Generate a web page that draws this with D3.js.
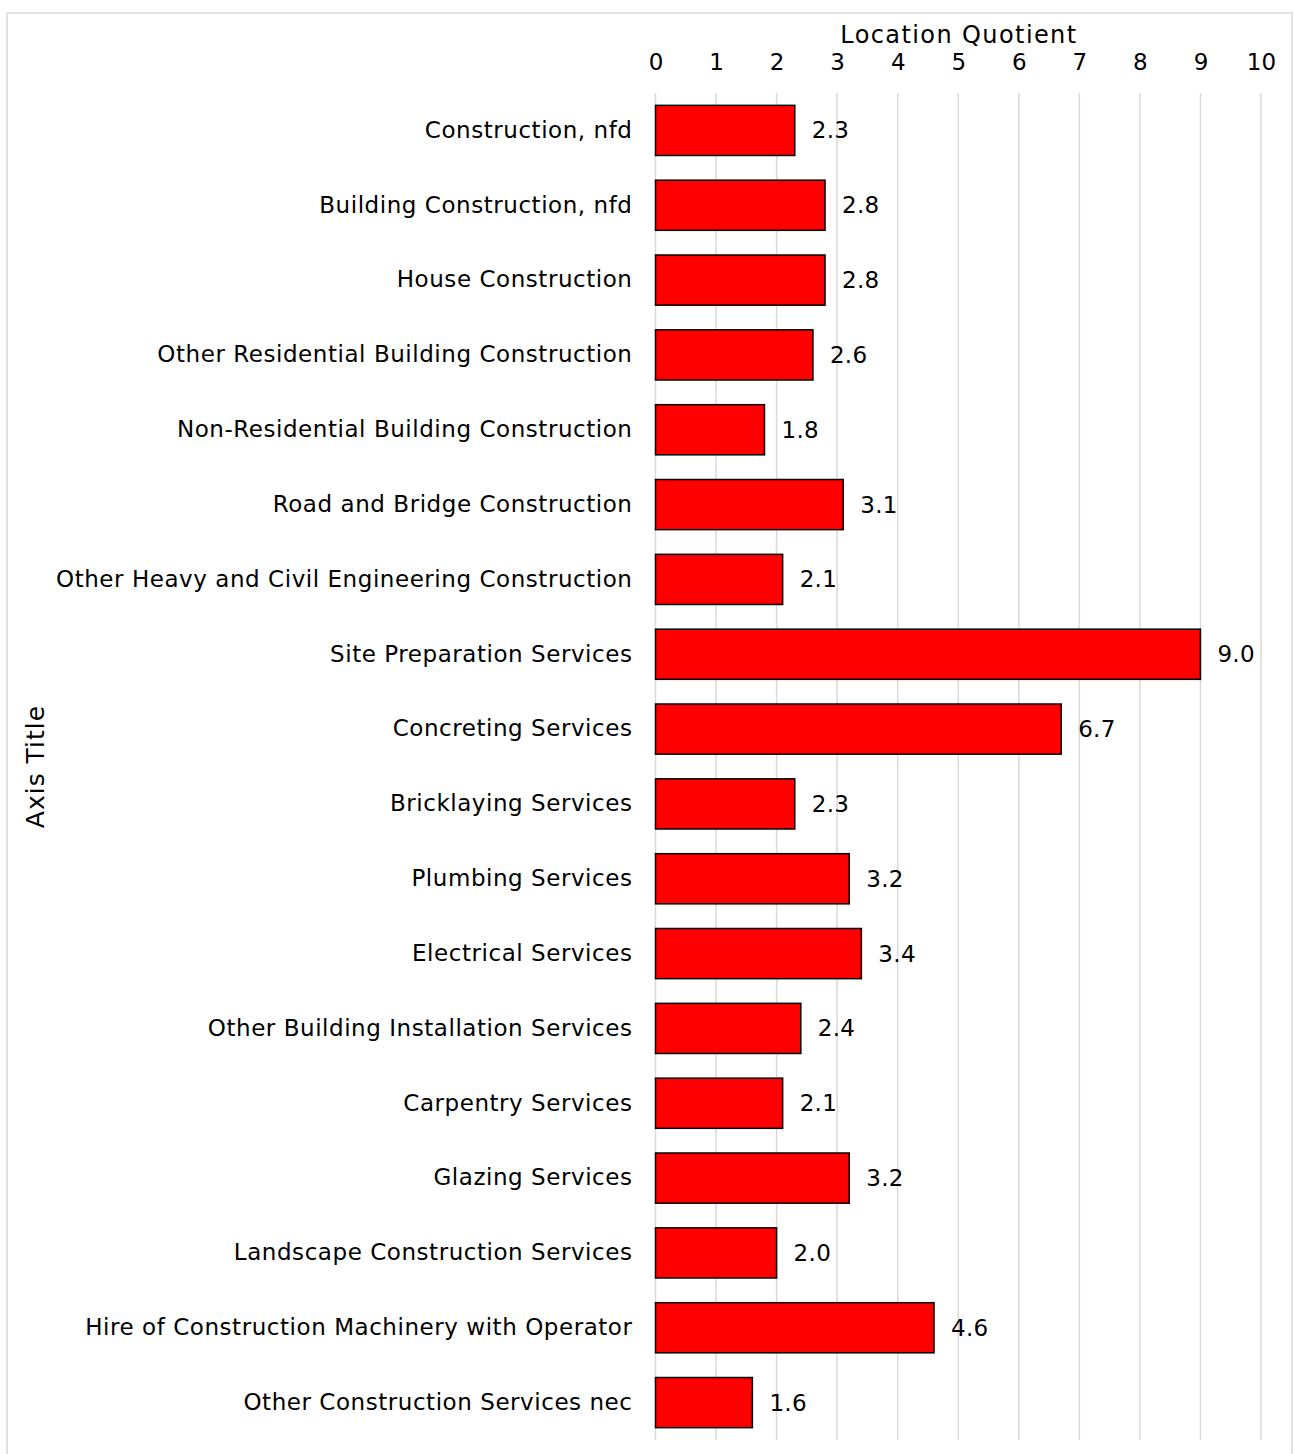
<!DOCTYPE html>
<html>
<head>
<meta charset="utf-8">
<script src="https://cdn.jsdelivr.net/npm/d3@7"></script>
<style>
  html, body { margin: 0; padding: 0; background: #fff; }
  svg { display: block; }
  .lbl { font-family: "DejaVu Sans", Verdana, sans-serif; fill: #000; }
</style>
</head>
<body>
<svg id="chart" width="1294" height="1454"></svg>
<script>
// Construction sub-industries and their location quotients
const categories = [
  "Construction, nfd",
  "Building Construction, nfd",
  "House Construction",
  "Other Residential Building Construction",
  "Non-Residential Building Construction",
  "Road and Bridge Construction",
  "Other Heavy and Civil Engineering Construction",
  "Site Preparation Services",
  "Concreting Services",
  "Bricklaying Services",
  "Plumbing Services",
  "Electrical Services",
  "Other Building Installation Services",
  "Carpentry Services",
  "Glazing Services",
  "Landscape Construction Services",
  "Hire of Construction Machinery with Operator",
  "Other Construction Services nec"
];
const locationQuotient = [2.3, 2.8, 2.8, 2.6, 1.8, 3.1, 2.1, 9.0, 6.7, 2.3, 3.2, 3.4, 2.4, 2.1, 3.2, 2.0, 4.6, 1.6];
const xTicks = [0, 1, 2, 3, 4, 5, 6, 7, 8, 9, 10];
const xAxisTitle = "Location Quotient";
const yAxisTitle = "Axis Title";

const svg = d3.select("#chart");
const margin = { left: 655.5, right: 1261, top: 93, bottom: 1440 };

const x = d3.scaleLinear().domain([0, 10]).range([margin.left, margin.right]);
const y = d3.scaleBand().domain(categories).range([margin.top, margin.bottom])
  .paddingInner(0.33).paddingOuter(0.165);

// chart frame
svg.append("rect")
  .attr("x", 7).attr("y", 13).attr("width", 1285).attr("height", 1460)
  .attr("fill", "none").attr("stroke", "#d9d9d9").attr("stroke-width", 1.5);

// vertical gridlines
svg.append("g").selectAll("line").data(xTicks).join("line")
  .attr("x1", d => x(d)).attr("x2", d => x(d))
  .attr("y1", margin.top).attr("y2", margin.bottom)
  .attr("stroke", "#d9d9d9").attr("stroke-width", 1.5);

// top value axis
const xAxis = d3.axisTop(x).tickValues(xTicks).tickSize(0).tickPadding(0).tickFormat(d3.format("d"));
const gx = svg.append("g").attr("transform", `translate(0, 70)`).call(xAxis);
gx.select(".domain").remove();
gx.selectAll("text").attr("class", "lbl").attr("font-size", 23).attr("fill", "#000");

svg.append("text").attr("class", "lbl")
  .attr("x", (margin.left + margin.right) / 2 + 0.7).attr("y", 43)
  .attr("text-anchor", "middle").attr("font-size", 24).attr("letter-spacing", 1.4)
  .text(xAxisTitle);

// category axis
const yAxis = d3.axisLeft(y).tickSize(0).tickPadding(23);
const gy = svg.append("g").attr("transform", `translate(${margin.left}, 0)`).call(yAxis);
gy.select(".domain").remove();
gy.selectAll("text").attr("class", "lbl").attr("font-size", 23).attr("letter-spacing", 0.55).attr("fill", "#000");

svg.append("text").attr("class", "lbl")
  .attr("transform", `translate(44, ${(margin.top + margin.bottom) / 2}) rotate(-90)`)
  .attr("text-anchor", "middle").attr("font-size", 25).attr("letter-spacing", 1)
  .text(yAxisTitle);

// bars
const rows = categories.map((c, i) => ({ c, v: locationQuotient[i] }));
svg.append("g").selectAll("rect").data(rows).join("rect")
  .attr("x", x(0)).attr("y", d => y(d.c))
  .attr("width", d => x(d.v) - x(0)).attr("height", y.bandwidth())
  .attr("fill", "#ff0000").attr("stroke", "#000").attr("stroke-width", 1.5);

// value labels
svg.append("g").selectAll("text").data(rows).join("text")
  .attr("class", "lbl").attr("font-size", 23).attr("letter-spacing", 0.3)
  .attr("x", d => x(d.v) + 17).attr("y", d => y(d.c) + y.bandwidth() / 2)
  .attr("dy", "0.35em")
  .text(d => d3.format(".1f")(d.v));
</script>
</body>
</html>
